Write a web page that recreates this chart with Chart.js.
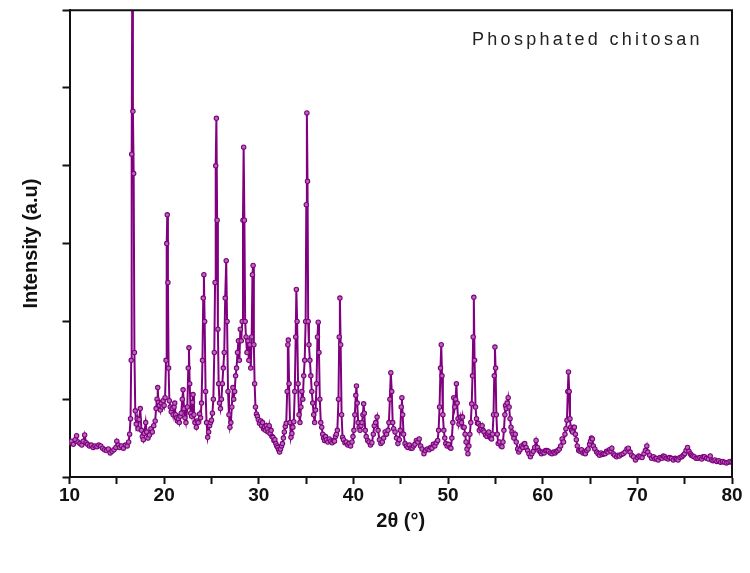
<!DOCTYPE html>
<html>
<head>
<meta charset="utf-8">
<script src="https://cdn.jsdelivr.net/npm/chart.js@4.4.1/dist/chart.umd.min.js"></script>
<style>
  html, body { margin: 0; padding: 0; background: #fff; }
  canvas { display: block; }
</style>
</head>
<body>
<canvas id="xrdChart" width="750" height="573"></canvas>
<script>
// 2θ positions (degrees)
const twoTheta = [
  10.0, 10.2, 10.4, 10.6, 10.75, 10.9, 11.1, 11.3, 11.45, 11.6,
  11.75, 11.9, 12.1, 12.3, 12.5, 12.7, 12.9, 13.1, 13.3, 13.5,
  13.7, 13.9, 14.1, 14.3, 14.5, 14.7, 14.9, 15.0, 15.15, 15.3,
  15.5, 15.7, 15.9, 16.1, 16.25, 16.35, 16.45, 16.52, 16.57, 16.63,
  16.7, 16.78, 16.86, 16.95, 17.05, 17.15, 17.25, 17.35, 17.48, 17.6,
  17.7, 17.8, 17.9, 18.05, 18.15, 18.3, 18.45, 18.6, 18.75, 18.9,
  19.05, 19.15, 19.25, 19.32, 19.4, 19.5, 19.6, 19.7, 19.8, 19.9,
  20.0, 20.1, 20.2, 20.27, 20.33, 20.4, 20.47, 20.55, 20.65, 20.75,
  20.85, 20.95, 21.05, 21.12, 21.2, 21.3, 21.4, 21.5, 21.6, 21.7,
  21.8, 21.92, 22.0, 22.1, 22.2, 22.3, 22.45, 22.55, 22.62, 22.7,
  22.8, 22.9, 23.0, 23.05, 23.15, 23.25, 23.4, 23.5, 23.6, 23.75,
  23.85, 23.95, 24.05, 24.13, 24.2, 24.28, 24.38, 24.48, 24.6, 24.7,
  24.8, 24.9, 25.0, 25.1, 25.2, 25.3, 25.38, 25.45, 25.52, 25.6,
  25.68, 25.76, 25.85, 25.95, 26.05, 26.15, 26.25, 26.35, 26.45, 26.56,
  26.65, 26.75, 26.85, 26.95, 27.05, 27.15, 27.26, 27.35, 27.45, 27.55,
  27.65, 27.75, 27.85, 27.95, 28.05, 28.15, 28.25, 28.33, 28.4, 28.48,
  28.56, 28.65, 28.75, 28.85, 28.95, 29.05, 29.15, 29.25, 29.33, 29.4,
  29.48, 29.56, 29.65, 29.75, 29.85, 29.95, 30.07, 30.2, 30.3, 30.4,
  30.5, 30.6, 30.7, 30.8, 30.9, 31.0, 31.1, 31.2, 31.3, 31.4,
  31.5, 31.6, 31.7, 31.8, 31.9, 32.0, 32.1, 32.2, 32.3, 32.4,
  32.5, 32.6, 32.7, 32.8, 32.9, 33.0, 33.07, 33.12, 33.2, 33.3,
  33.4, 33.5, 33.6, 33.7, 33.8, 33.9, 33.97, 34.05, 34.15, 34.25,
  34.35, 34.45, 34.55, 34.65, 34.75, 34.85, 34.95, 35.02, 35.08, 35.15,
  35.22, 35.3, 35.4, 35.5, 35.6, 35.7, 35.8, 35.9, 36.0, 36.1,
  36.2, 36.28, 36.36, 36.45, 36.55, 36.65, 36.75, 36.85, 36.95, 37.05,
  37.15, 37.3, 37.45, 37.6, 37.75, 37.9, 38.0, 38.1, 38.2, 38.3,
  38.42, 38.5, 38.57, 38.65, 38.75, 38.85, 38.95, 39.1, 39.25, 39.4,
  39.55, 39.7, 39.85, 39.95, 40.05, 40.15, 40.25, 40.32, 40.4, 40.5,
  40.6, 40.7, 40.8, 40.9, 41.0, 41.08, 41.15, 41.25, 41.35, 41.5,
  41.65, 41.8, 41.95, 42.1, 42.2, 42.35, 42.5, 42.6, 42.75, 42.9,
  43.05, 43.2, 43.35, 43.5, 43.65, 43.75, 43.85, 43.95, 44.05, 44.15,
  44.25, 44.4, 44.55, 44.7, 44.85, 44.95, 45.05, 45.12, 45.2, 45.3,
  45.45, 45.6, 45.75, 45.9, 46.05, 46.2, 46.35, 46.5, 46.65, 46.8,
  46.95, 47.1, 47.25, 47.45, 47.6, 47.8, 48.0, 48.15, 48.3, 48.45,
  48.6, 48.75, 48.9, 49.0, 49.1, 49.2, 49.28, 49.36, 49.45, 49.55,
  49.65, 49.75, 49.9, 50.05, 50.2, 50.3, 50.4, 50.5, 50.6, 50.7,
  50.8, 50.88, 50.96, 51.05, 51.15, 51.25, 51.33, 51.42, 51.52, 51.6,
  51.7, 51.8, 51.9, 52.0, 52.1, 52.2, 52.3, 52.4, 52.5, 52.58,
  52.65, 52.72, 52.8, 52.9, 53.0, 53.1, 53.2, 53.3, 53.4, 53.5,
  53.6, 53.7, 53.8, 53.96, 54.1, 54.2, 54.3, 54.4, 54.5, 54.6,
  54.7, 54.8, 54.88, 54.95, 55.02, 55.1, 55.2, 55.3, 55.45, 55.6,
  55.7, 55.8, 55.9, 56.0, 56.07, 56.15, 56.25, 56.35, 56.45, 56.55,
  56.65, 56.75, 56.85, 56.95, 57.1, 57.2, 57.35, 57.47, 57.6, 57.75,
  57.9, 58.0, 58.1, 58.25, 58.4, 58.55, 58.7, 58.85, 59.0, 59.15,
  59.3, 59.45, 59.6, 59.75, 59.86, 60.0, 60.15, 60.3, 60.45, 60.6,
  60.8, 60.98, 61.15, 61.3, 61.45, 61.6, 61.75, 61.9, 62.05, 62.2,
  62.35, 62.45, 62.56, 62.65, 62.72, 62.8, 62.88, 62.95, 63.05, 63.15,
  63.25, 63.35, 63.45, 63.55, 63.65, 63.8, 63.95, 64.1, 64.25, 64.4,
  64.5, 64.65, 64.8, 64.95, 65.05, 65.15, 65.25, 65.35, 65.5, 65.7,
  65.85, 66.0, 66.15, 66.3, 66.45, 66.6, 66.75, 66.9, 67.05, 67.2,
  67.3, 67.45, 67.6, 67.8, 67.95, 68.1, 68.3, 68.5, 68.7, 68.9,
  69.05, 69.24, 69.4, 69.6, 69.8, 70.0, 70.15, 70.3, 70.5, 70.7,
  70.85, 71.0, 71.1, 71.3, 71.5, 71.7, 71.85, 72.0, 72.2, 72.4,
  72.6, 72.75, 72.9, 73.05, 73.25, 73.4, 73.6, 73.8, 74.0, 74.15,
  74.3, 74.5, 74.7, 74.85, 75.0, 75.15, 75.3, 75.45, 75.6, 75.7,
  75.85, 76.0, 76.2, 76.4, 76.6, 76.8, 76.95, 77.1, 77.3, 77.5,
  77.7, 77.85, 78.0, 78.2, 78.4, 78.6, 78.8, 79.0, 79.2, 79.4,
  79.6, 79.8, 80.0
];

// intensity (a.u.), same order as twoTheta
const intensity = [
  44, 46, 42, 48, 53, 45, 43, 41, 46, 54,
  44, 42, 40, 41, 38, 40, 39, 41, 40, 37,
  35, 34, 36, 31, 33, 35, 38, 46, 41, 38,
  40, 37, 41, 40, 45, 55, 75, 150, 415, 640,
  470, 390, 160, 85, 68, 75, 62, 74, 88, 60,
  52, 48, 56, 70, 58, 50, 54, 62, 58, 66,
  72, 88, 100, 115, 96, 92, 86, 95, 90, 98,
  92, 102, 150, 300, 337, 250, 140, 98, 90, 84,
  88, 80, 90, 95, 80, 76, 72, 75, 70, 78,
  82, 100, 112, 88, 76, 70, 90, 140, 166, 120,
  82, 78, 96, 106, 80, 70, 64, 72, 70, 81,
  76, 95, 150, 230, 260, 200, 110, 70, 51, 58,
  66, 70, 73, 82, 100, 160, 250, 400, 461, 330,
  190, 120, 95, 88, 100, 120, 140, 160, 230, 278,
  200, 110, 80, 64, 70, 90, 115, 100, 110, 130,
  140, 160, 175, 150, 190, 175, 200, 330, 424, 330,
  200, 180, 160, 175, 150, 170, 140, 180, 260, 272,
  170, 120, 90, 81, 78, 74, 69, 72, 66, 70,
  62, 64, 60, 66, 62, 58, 66, 56, 60, 52,
  51, 47, 48, 43, 40, 38, 35, 32, 36, 40,
  43, 50, 58, 65, 69, 110, 170, 176, 120, 70,
  51, 56, 64, 71, 110, 180, 241, 200, 120, 80,
  70, 90, 110, 100, 130, 150, 200, 350, 468, 380,
  200, 170, 150, 130, 110, 95, 80, 70, 86, 120,
  180, 199, 160, 100, 70, 64, 55, 50, 47, 52,
  48, 45, 49, 46, 44, 47, 46, 52, 55, 60,
  100, 180, 230, 170, 80, 51, 48, 44, 45, 41,
  43, 40, 45, 52, 60, 80, 105, 117, 95, 70,
  64, 60, 66, 70, 80, 94, 82, 60, 52, 47,
  45, 41, 44, 55, 66, 70, 77, 60, 48, 43,
  45, 50, 58, 55, 60, 70, 100, 134, 110, 70,
  62, 58, 50, 43, 48, 60, 90, 102, 80, 55,
  43, 40, 38, 41, 37, 37, 40, 42, 47, 45,
  49, 40, 36, 30, 34, 36, 35, 38, 37, 42,
  40, 44, 47, 60, 90, 140, 170, 130, 80, 60,
  50, 43, 40, 42, 38, 37, 50, 70, 102, 90,
  100, 120, 95, 75, 68, 72, 77, 70, 77, 64,
  64, 55, 45, 36, 30, 40, 55, 70, 94, 130,
  180, 231, 150, 90, 75, 69, 69, 60, 66, 62,
  66, 60, 58, 54, 52, 56, 58, 52, 50, 49,
  55, 80, 130, 167, 140, 80, 55, 43, 45, 40,
  39, 45, 60, 80, 92, 88, 95, 102, 90, 75,
  64, 58, 55, 50, 55, 45, 36, 32, 35, 40,
  38, 42, 43, 38, 34, 30, 26, 30, 33, 38,
  47, 38, 34, 32, 30, 32, 31, 34, 34, 33,
  31, 30, 32, 31, 33, 34, 36, 40, 49, 45,
  55, 62, 73, 110, 135, 110, 75, 64, 60, 58,
  64, 64, 55, 48, 40, 34, 33, 35, 31, 32,
  30, 34, 36, 42, 46, 50, 49, 40, 36, 32,
  30, 28, 31, 29, 30, 30, 33, 32, 35, 33,
  37, 30, 28, 26, 28, 27, 29, 30, 32, 36,
  37, 32, 28, 26, 22, 25, 27, 26, 25, 30,
  34, 40, 32, 28, 24, 26, 23, 24, 22, 25,
  24, 27, 26, 24, 23, 25, 24, 22, 24, 23,
  22, 25, 26, 28, 30, 34, 38, 33, 30, 28,
  27, 26, 24, 24, 25, 23, 26, 26, 24, 23,
  27, 22, 21, 22, 20, 21, 19, 20, 19, 18,
  19, 20, 19
];

const xTickValues = [10, 20, 30, 40, 50, 60, 70, 80];
const sampleName = "Phosphated chitosan";

const purple = "#800080";
const axisColor = "#111";

// frame on top/right and the sample name inside the plot
const framePlugin = {
  id: "frame",
  afterDraw(chart) {
    const c = chart.ctx;
    const a = chart.chartArea;
    c.save();
    c.strokeStyle = axisColor;
    c.lineWidth = 2;
    c.beginPath();
    c.moveTo(a.left, a.top);
    c.lineTo(a.right, a.top);
    c.lineTo(a.right, a.bottom);
    c.stroke();

    c.fillStyle = "#222";
    c.font = "18px 'Liberation Sans', Arial, sans-serif";
    c.letterSpacing = "3.3px";
    c.textAlign = "left";
    c.textBaseline = "alphabetic";
    c.fillText(sampleName, 472, 45);
    c.restore();
  }
};

const points = twoTheta.map(function (t, i) {
  return { x: t, y: intensity[i] };
});

const ctx = document.getElementById("xrdChart").getContext("2d");
const chart = new Chart(ctx, {
  type: "line",
  data: {
    datasets: [{
      data: points,
      borderColor: purple,
      borderWidth: 2,
      pointRadius: 2.2,
      pointBorderWidth: 1.1,
      pointBorderColor: purple,
      pointBackgroundColor: "#b46ab4",
      tension: 0
    }]
  },
  options: {
    responsive: false,
    animation: false,
    layout: { padding: { left: 0, right: 18, top: 7, bottom: 0 } },
    plugins: {
      legend: { display: false },
      tooltip: { enabled: false }
    },
    scales: {
      x: {
        type: "linear",
        min: 10,
        max: 80,
        afterFit: function (s) { s.height = 96; },
        ticks: {
          stepSize: 5,
          autoSkip: false,
          maxRotation: 0,
          padding: 0,
          color: axisColor,
          font: { family: "'Liberation Sans', Arial, sans-serif", size: 19, weight: "bold" },
          callback: function (v) { return xTickValues.includes(v) ? String(v) : ""; }
        },
        grid: { drawOnChartArea: false, tickLength: 7, tickWidth: 2, tickColor: axisColor },
        border: { color: axisColor, width: 2 },
        title: {
          display: true,
          text: "2θ (°)",
          color: axisColor,
          font: { family: "'Liberation Sans', Arial, sans-serif", size: 20, weight: "bold" },
          padding: { top: 0, bottom: 40 }
        }
      },
      y: {
        min: 0,
        max: 600,
        afterFit: function (s) { s.width = 69.5; },
        ticks: {
          stepSize: 100,
          callback: function () { return ""; }
        },
        grid: { drawOnChartArea: false, tickLength: 7, tickWidth: 2, tickColor: axisColor },
        border: { color: axisColor, width: 2 },
        title: {
          display: true,
          text: "Intensity (a.u)",
          color: axisColor,
          font: { family: "'Liberation Sans', Arial, sans-serif", size: 20, weight: "bold" },
          padding: { top: 19, bottom: 0 }
        }
      }
    }
  },
  plugins: [framePlugin]
});
</script>
</body>
</html>
